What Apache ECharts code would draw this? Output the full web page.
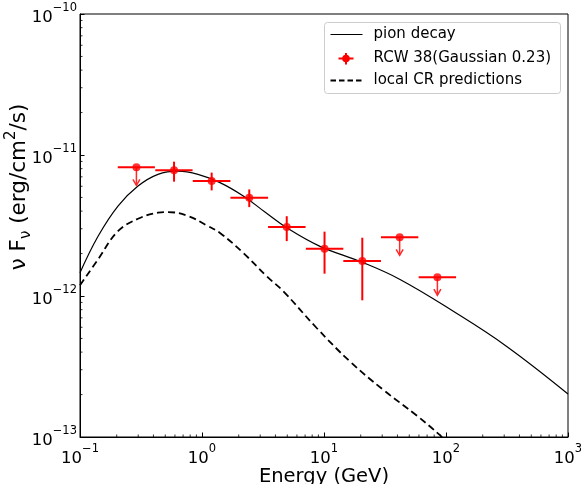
<!DOCTYPE html>
<html>
<head>
<meta charset="utf-8">
<script src="https://cdn.jsdelivr.net/npm/echarts@6/dist/echarts.min.js"></script>
<style>html,body{margin:0;padding:0;background:#fff;}#c{width:581px;height:484px;}</style>
</head>
<body>
<div id="c"></div>
<script>
// ---- data ----
const xTicks = [0.1, 1, 10, 100, 1000];
const yTicks = [1e-13, 1e-12, 1e-11, 1e-10];

const pionX = [0.1, 0.1406, 0.2047, 0.2988, 0.4357, 0.6357, 0.927, 1.404, 2.18, 3.28, 4.94, 9.27, 20.4, 42.0, 114.8, 314.5, 1000];
const pionY = [1.46e-12, 2.65e-12, 4.34e-12, 6.02e-12, 7.29e-12, 7.69e-12, 7.29e-12, 6.37e-12, 5.12e-12, 3.94e-12, 3.05e-12, 2.25e-12, 1.74e-12, 1.31e-12, 7.79e-13, 4.39e-13, 2.02e-13];

const crX = [0.1, 0.1406, 0.2047, 0.2988, 0.4357, 0.526, 0.768, 1.084, 1.404, 2.18, 3.39, 4.64, 8.71, 16.33, 30.6, 57.5, 89.3, 100];
const crY = [1.19e-12, 1.82e-12, 2.88e-12, 3.53e-12, 3.90e-12, 3.94e-12, 3.69e-12, 3.18e-12, 2.80e-12, 2.02e-12, 1.38e-12, 1.08e-12, 5.93e-13, 3.43e-13, 2.16e-13, 1.42e-13, 1.03e-13, 9.3e-14];

const ptX     = [0.29, 0.59, 1.2, 2.44, 4.95, 10.1, 20.6, 41.7, 85];
const ptY     = [8.18e-12, 7.79e-12, 6.53e-12, 4.97e-12, 3.08e-12, 2.16e-12, 1.77e-12, 2.61e-12, 1.36e-12];
const ptXLow  = [0.204, 0.414, 0.84, 1.71, 3.48, 7.1, 14.4, 29.3, 59.7];
const ptXHigh = [0.411, 0.837, 1.71, 3.48, 7.06, 14.4, 29.3, 59.3, 121];
const ptYLow  = [null, 6.47e-12, 5.61e-12, 4.27e-12, 2.45e-12, 1.44e-12, 9.32e-13, null, null];
const ptYHigh = [null, 8.97e-12, 7.50e-12, 5.70e-12, 3.68e-12, 2.86e-12, 2.59e-12, null, null];
const isUpperLimit = [true, false, false, false, false, false, false, true, true];

const legendNames = ['pion decay', 'RCW 38(Gaussian 0.23)', 'local CR predictions'];
const xName = 'Energy (GeV)';

// ---- build ----
const FONT = 'DejaVu Sans';
const xMin = xTicks[0], xMax = xTicks[xTicks.length - 1];
const yMin = yTicks[0], yMax = yTicks[yTicks.length - 1];

const xMinor = [], yMinor = [];
for (let d = -1; d < 3; d++) for (let m = 2; m <= 9; m++) xMinor.push([m * Math.pow(10, d), yMin]);
for (let d = -13; d < -10; d++) for (let m = 2; m <= 9; m++) yMinor.push([xMin, m * Math.pow(10, d)]);

function powLabel(v) {
  const e = Math.round(Math.log10(v));
  return '{b|10}{s|' + (e < 0 ? '\u2212' + (-e) : e) + '}';
}
const labelRich = {
  b: { fontFamily: FONT, fontSize: 16.5, color: '#000', lineHeight: 24, verticalAlign: 'bottom' },
  s: { fontFamily: FONT, fontSize: 11.5, color: '#000', lineHeight: 24, verticalAlign: 'top' }
};

const pts = ptX.map((x, i) => [x, ptY[i], ptXLow[i], ptXHigh[i],
  ptYLow[i] == null ? ptY[i] : ptYLow[i], ptYHigh[i] == null ? ptY[i] : ptYHigh[i], isUpperLimit[i] ? 1 : 0]);

const chart = echarts.init(document.getElementById('c'), null, { renderer: 'canvas' });
chart.setOption({
  animation: false,
  backgroundColor: '#fff',
  grid: { left: 80, right: 13, top: 14, bottom: 47, show: true, borderColor: '#000', borderWidth: 1, backgroundColor: 'transparent', containLabel: false, outerBoundsMode: 'none' },
  xAxis: {
    type: 'log', logBase: 10, min: xMin, max: xMax, interval: 1,
    name: xName, nameLocation: 'middle', nameGap: 29.5, nameMoveOverlap: false,
    nameTextStyle: { fontFamily: FONT, fontSize: 19.5, color: '#000' },
    axisLine: { show: true, lineStyle: { color: '#000', width: 1 } },
    axisTick: { show: true, inside: true, length: 4.5, lineStyle: { color: '#000', width: 1 } },
    axisLabel: { show: true, margin: 6, formatter: powLabel, rich: labelRich, showMinLabel: true, showMaxLabel: true },
    splitLine: { show: false }, minorTick: { show: false }
  },
  yAxis: {
    type: 'log', logBase: 10, min: yMin, max: yMax, interval: 1,
    axisLine: { show: true, lineStyle: { color: '#000', width: 1 } },
    axisTick: { show: true, inside: true, length: 4.5, lineStyle: { color: '#000', width: 1 } },
    axisLabel: { show: true, margin: 3, formatter: powLabel, rich: labelRich, showMinLabel: true, showMaxLabel: true },
    splitLine: { show: false }, minorTick: { show: false }
  },
  graphic: [
    {
      type: 'text', x: 19, y: 187, rotation: Math.PI / 2,
      style: {
        text: '{a|\u03bd F}{sub|\u03bd}{a| (erg/cm}{sup|2}{a|/s)}',
        align: 'center', verticalAlign: 'middle',
        rich: {
          a: { fontFamily: FONT, fontSize: 21.5, fill: '#000', lineHeight: 30, verticalAlign: 'middle' },
          sub: { fontFamily: FONT, fontSize: 15, fill: '#000', lineHeight: 30, verticalAlign: 'bottom' },
          sup: { fontFamily: FONT, fontSize: 15, fill: '#000', lineHeight: 30, verticalAlign: 'top' }
        }
      }
    },
    {
      type: 'group', left: 324, top: 22, z: 100,
      children: [
        { type: 'rect', shape: { x: 0, y: 0, width: 236, height: 71, r: 3 }, style: { fill: 'rgba(255,255,255,0.8)', stroke: '#cccccc', lineWidth: 1 } },
        { type: 'line', shape: { x1: 6, y1: 12, x2: 38, y2: 12 }, style: { stroke: '#000', lineWidth: 1.2 } },
        { type: 'text', x: 49, y: 12, style: { text: legendNames[0], fontFamily: FONT, fontSize: 15, fill: '#000', verticalAlign: 'middle' } },
        { type: 'line', shape: { x1: 14, y1: 36, x2: 29, y2: 36 }, style: { stroke: '#ff0000', lineWidth: 2 } },
        { type: 'line', shape: { x1: 21.5, y1: 30.5, x2: 21.5, y2: 42 }, style: { stroke: '#ff0000', lineWidth: 2 } },
        { type: 'circle', shape: { cx: 21.5, cy: 36, r: 3.8 }, style: { fill: '#ff0000' } },
        { type: 'text', x: 49, y: 36, style: { text: legendNames[1], fontFamily: FONT, fontSize: 15, fill: '#000', verticalAlign: 'middle' } },
        { type: 'line', shape: { x1: 6, y1: 58, x2: 38, y2: 58 }, style: { stroke: '#000', lineWidth: 1.8, lineDash: [5.5, 3] } },
        { type: 'text', x: 49, y: 58, style: { text: legendNames[2], fontFamily: FONT, fontSize: 15, fill: '#000', verticalAlign: 'middle' } }
      ]
    }
  ],
  series: [
    {
      name: legendNames[2], type: 'line', data: crX.map((x, i) => [x, crY[i]]),
      showSymbol: false, symbol: 'none', smooth: 0.4, clip: true,
      lineStyle: { color: '#000', width: 1.8, type: [7, 4] }, z: 2
    },
    {
      name: legendNames[0], type: 'line', data: pionX.map((x, i) => [x, pionY[i]]),
      showSymbol: false, symbol: 'none', smooth: 0.4, clip: true,
      lineStyle: { color: '#000', width: 1.2 }, z: 3
    },
    {
      name: legendNames[1] + ' bars', type: 'custom', data: pts, clip: false, z: 4,
      renderItem: function (params, api) {
        const p = api.coord([api.value(0), api.value(1)]);
        const xl = api.coord([api.value(2), api.value(1)]);
        const xh = api.coord([api.value(3), api.value(1)]);
        const st = { stroke: '#ff0000', lineWidth: 2 };
        const children = [{ type: 'line', shape: { x1: xl[0], y1: p[1], x2: xh[0], y2: p[1] }, style: st }];
        if (api.value(6) === 1) {
          const L = 18;
          const ast = { stroke: '#ff2a2a', lineWidth: 1.5, fill: null };
          children.push({ type: 'line', shape: { x1: p[0], y1: p[1], x2: p[0], y2: p[1] + L }, style: ast });
          children.push({ type: 'polyline', shape: { points: [[p[0] - 3.5, p[1] + L - 6], [p[0], p[1] + L], [p[0] + 3.5, p[1] + L - 6]] }, style: ast });
        } else {
          const yl = api.coord([api.value(0), api.value(4)]);
          const yh = api.coord([api.value(0), api.value(5)]);
          children.push({ type: 'line', shape: { x1: p[0], y1: yl[1], x2: p[0], y2: yh[1] }, style: st });
        }
        return { type: 'group', children: children };
      }
    },
    {
      name: legendNames[1], type: 'scatter', data: ptX.map((x, i) => [x, ptY[i]]),
      symbol: 'circle', symbolSize: 8, itemStyle: { color: '#ff0000' }, z: 5
    },
    {
      name: 'xminor', type: 'custom', data: xMinor, clip: false, z: 6, silent: true,
      renderItem: function (params, api) {
        const p = api.coord([api.value(0), api.value(1)]);
        return { type: 'line', shape: { x1: p[0], y1: p[1], x2: p[0], y2: p[1] - 2.5 }, style: { stroke: '#000', lineWidth: 0.8 } };
      }
    },
    {
      name: 'yminor', type: 'custom', data: yMinor, clip: false, z: 6, silent: true,
      renderItem: function (params, api) {
        const p = api.coord([api.value(0), api.value(1)]);
        return { type: 'line', shape: { x1: p[0], y1: p[1], x2: p[0] + 2.5, y2: p[1] }, style: { stroke: '#000', lineWidth: 0.8 } };
      }
    }
  ]
});
</script>
</body>
</html>
